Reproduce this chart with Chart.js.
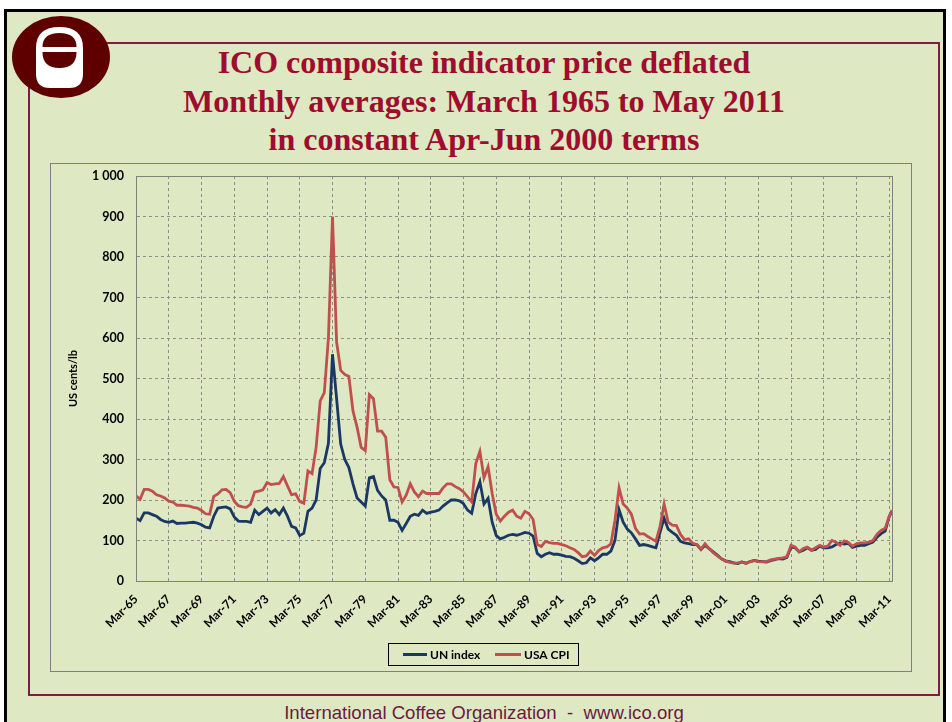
<!DOCTYPE html>
<html>
<head>
<meta charset="utf-8">
<script src="https://cdn.jsdelivr.net/npm/chart.js@4"></script>
<style>
  html, body { margin: 0; padding: 0; width: 952px; height: 722px; overflow: hidden; background: #fff; }
  #slide { position: absolute; left: 4px; top: 9px; width: 942px; height: 760px; box-sizing: border-box;
           border: 3px solid #000; background: #dee8c3; }
  #frame { position: absolute; left: 28px; top: 42px; width: 912px; height: 654px; box-sizing: border-box;
           border: 2px solid #7b1f42; }
  #logo { position: absolute; left: 0; top: 0; }
  #title { position: absolute; left: 84px; top: 43px; width: 800px; text-align: center;
           font-family: "Liberation Serif", "Times New Roman", serif; font-weight: bold; font-size: 32px;
           line-height: 38.5px; color: #9e0c2e; }
  #box { position: absolute; left: 50px; top: 163px; width: 862px; height: 509px; box-sizing: border-box;
         border: 1px solid #7f7f7f; }
  #chart { position: absolute; left: 50px; top: 163px; }
  #footer { position: absolute; left: 0; top: 702px; width: 968px; text-align: center;
            font-family: "Liberation Sans", Arial, sans-serif; font-size: 18.6px; color: #6a1b3d; }
</style>
</head>
<body>
<div id="slide"></div>
<div id="frame"></div>
<svg id="logo" width="130" height="110" viewBox="0 0 130 110">
  <ellipse cx="61" cy="57" rx="49" ry="41" fill="#5e0000"/>
  <path d="M36,48 Q36,27 59.5,27 Q83,27 83,48 V74 Q83,88 69,88 H50 Q36,88 36,74 Z" fill="#fff"/>
  <path d="M42.5,47 Q42.5,33 59.5,33 Q76.5,33 76.5,47 Z" fill="#5e0000"/>
  <path d="M42.5,52 H76.5 Q76.5,68 59.5,68 Q42.5,68 42.5,52 Z" fill="#5e0000"/>
</svg>
<div id="title">ICO composite indicator price deflated<br>Monthly averages: March 1965 to May 2011<br>in constant Apr-Jun 2000 terms</div>
<div id="box"></div>
<canvas id="chart" width="862" height="509"></canvas>
<div id="footer">International Coffee Organization&nbsp; -&nbsp; www.ico.org</div>

<script>
// Quarterly readings (Mar, Jun, Sep, Dec) from Mar-1965; the last value is May-2011
const unIndex = [
  155, 149, 168, 168,   164, 160, 152, 147,   145, 148, 142, 143,   143, 144, 145, 143,
  139, 133, 131, 160,   180, 182, 183, 178,   158, 148, 147, 147,   145, 175, 164, 172,
  180, 168, 176, 164,   180, 160, 135, 131,   112, 118, 172, 180,   200, 278, 292, 340,
  560, 450, 338, 300,   280, 240, 205, 195,   185, 255, 258, 224,   210, 200, 150, 150,
  145, 125, 142, 160,   165, 162, 175, 167,   170, 172, 175, 185,   193, 200, 200, 198,
  191, 175, 167, 216,   245, 190, 204, 145,   112, 104, 108, 113,   115, 113, 116, 120,
  118, 111, 68, 60,     66, 70, 66, 66,       64, 61, 60, 56,       50, 43, 45, 57,
  50, 57, 66, 66,       74, 100, 176, 145,    128, 119, 104, 88,    90, 88, 85, 82,
  120, 155, 128, 120,   113, 98, 94, 92,      90, 90, 78, 88,       80, 72, 64, 55,
  50, 48, 45, 43,       47, 44, 48, 51,       49, 48, 47, 50,       53, 55, 54, 58,
  84, 82, 72, 76,       82, 76, 78, 86,       82, 82, 84, 90,       94, 91, 93, 83,
  86, 88, 88, 92,       96, 108, 117, 123,    160, 172
];

const usaCpi = [
  210, 202, 226, 226,   222, 213, 210, 205,   197, 195, 187, 187,   186, 185, 182, 180,
  174, 166, 165, 209,   215, 225, 226, 218,   197, 186, 183, 182,   190, 220, 222, 225,
  243, 238, 240, 241,   258, 235, 213, 215,   196, 192, 272, 265,   330, 445, 465, 600,
  900, 590, 520, 510,   505, 420, 380, 330,   322, 460, 450, 370,   370, 355, 250, 232,
  231, 195, 212, 240,   220, 208, 222, 216,   216, 216, 216, 230,   240, 240, 233, 228,
  220, 208, 195, 290,   320, 255, 282, 216,   165, 148, 160, 170,   175, 160, 155, 172,
  166, 152, 90, 85,     98, 95, 93, 93,       90, 87, 82, 78,       70, 60, 62, 74,
  63, 75, 82, 84,       92, 150, 230, 190,    180, 165, 130, 116,   117, 110, 104, 98,
  135, 190, 145, 138,   137, 115, 102, 104,   93, 90, 78, 92,       80, 70, 62, 55,
  49, 46, 44, 45,       47, 43, 48, 50,       48, 47, 48, 52,       54, 56, 57, 60,
  88, 84, 72, 80,       84, 76, 82, 88,       84, 86, 100, 96,      88, 99, 95, 86,
  92, 94, 94, 96,       100, 115, 125, 130,   160, 175
];

// months counted from Mar-1965
const monthOffsets = [];
for (let m = 0; m <= 552; m += 3) monthOffsets.push(m);
monthOffsets.push(554);

const xTickLabels = ['Mar-65', 'Mar-67', 'Mar-69', 'Mar-71', 'Mar-73', 'Mar-75', 'Mar-77', 'Mar-79',
  'Mar-81', 'Mar-83', 'Mar-85', 'Mar-87', 'Mar-89', 'Mar-91', 'Mar-93', 'Mar-95', 'Mar-97', 'Mar-99',
  'Mar-01', 'Mar-03', 'Mar-05', 'Mar-07', 'Mar-09', 'Mar-11'];
const xTickMonths = xTickLabels.map((_, i) => i * 24);

const seriesNames = ['UN index', 'USA CPI'];
const seriesColors = ['#1b3764', '#c0504d'];

const fontFamily = 'Lato, "Liberation Sans", sans-serif';

// Outline of the plot area, like the Excel original
const plotFrame = {
    id: 'plotFrame',
    afterDatasetsDraw(chart) {
        const a = chart.chartArea;
        const ctx = chart.ctx;
        ctx.save();
        ctx.strokeStyle = '#808080';
        ctx.lineWidth = 1;
        ctx.strokeRect(Math.round(a.left) + 0.5, Math.round(a.top) + 0.5,
            Math.round(a.right - a.left), Math.round(a.bottom - a.top));
        ctx.restore();
    }
};

// Boxed legend under the axis
const boxLegend = {
    id: 'boxLegend',
    afterDraw(chart) {
        const ctx = chart.ctx;
        ctx.save();
        ctx.strokeStyle = '#000';
        ctx.lineWidth = 1;
        ctx.strokeRect(338.5, 480.5, 190, 22);
        const items = [{ x: 353, w: 24 }, { x: 445, w: 26 }];
        chart.data.datasets.forEach((ds, i) => {
            const it = items[i];
            ctx.strokeStyle = ds.borderColor;
            ctx.lineWidth = 3;
            ctx.beginPath();
            ctx.moveTo(it.x, 491.5);
            ctx.lineTo(it.x + it.w, 491.5);
            ctx.stroke();
            ctx.fillStyle = '#000';
            ctx.font = 'bold 12px ' + fontFamily;
            ctx.textBaseline = 'middle';
            ctx.fillText(ds.label, it.x + it.w + 3, 492);
        });
        ctx.restore();
    }
};

const ctx = document.getElementById('chart').getContext('2d');

new Chart(ctx, {
    type: 'line',
    data: {
        datasets: [
            {
                label: seriesNames[0],
                data: unIndex.map((v, i) => ({ x: monthOffsets[i], y: v })),
                borderColor: seriesColors[0],
                borderWidth: 2.8,
                pointRadius: 0,
                tension: 0,
                order: 1
            },
            {
                label: seriesNames[1],
                data: usaCpi.map((v, i) => ({ x: monthOffsets[i], y: v })),
                borderColor: seriesColors[1],
                borderWidth: 2.8,
                pointRadius: 0,
                tension: 0,
                order: 0
            }
        ]
    },
    options: {
        responsive: false,
        animation: false,
        layout: { padding: { top: 13, right: 20, left: 0, bottom: 0 } },
        plugins: {
            legend: { display: false },
            tooltip: { enabled: false }
        },
        scales: {
            x: {
                type: 'linear',
                min: 0,
                max: 554,
                afterBuildTicks: (scale) => { scale.ticks = xTickMonths.map(v => ({ value: v })); },
                afterFit: (scale) => { scale.height = 91; },
                grid: { color: '#8c8c8c', drawTicks: false },
                border: { color: '#808080', dash: [3, 3] },
                ticks: {
                    autoSkip: false,
                    minRotation: 45,
                    maxRotation: 45,
                    padding: 11,
                    color: '#000',
                    font: { family: fontFamily, size: 12, weight: 'bold' },
                    callback: (v) => xTickLabels[xTickMonths.indexOf(v)]
                }
            },
            y: {
                min: 0,
                max: 1000,
                afterFit: (scale) => {
                    scale.width = 86;
                    scale.paddingTop = 0;
                    scale.paddingBottom = 0;
                },
                grid: { color: '#8c8c8c', drawTicks: false },
                border: { color: '#808080', dash: [3, 3] },
                ticks: {
                    stepSize: 100,
                    padding: 12,
                    color: '#000',
                    font: { family: fontFamily, size: 12.5, weight: 'bold' },
                    callback: (v) => v === 1000 ? '1 000' : String(v)
                },
                title: {
                    display: true,
                    text: 'US cents/lb',
                    color: '#000',
                    font: { family: fontFamily, size: 11, weight: 'bold' },
                    padding: { top: 17, bottom: 0 }
                }
            }
        }
    },
    plugins: [plotFrame, boxLegend]
});
</script>
</body>
</html>
